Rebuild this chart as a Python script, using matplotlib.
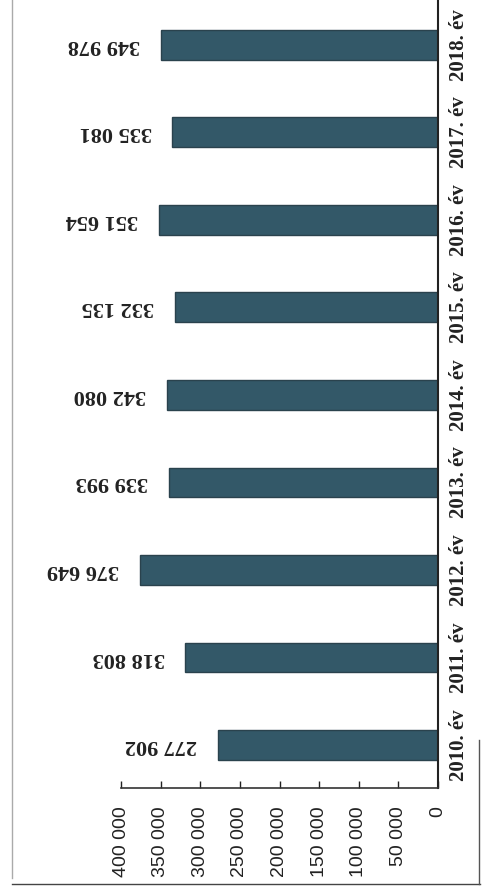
import matplotlib
matplotlib.use("Agg")
import matplotlib.pyplot as plt
from matplotlib.lines import Line2D
from matplotlib.ticker import FuncFormatter

categories = ["2010. év", "2011. év", "2012. év", "2013. év", "2014. év",
              "2015. év", "2016. év", "2017. év", "2018. év"]
values = [277902, 318803, 376649, 339993, 342080, 332135, 351654, 335081, 349978]
value_ticks = [0, 50000, 100000, 150000, 200000, 250000, 300000, 350000, 400000]

def fmt(v):
    return f"{int(v):,}".replace(",", " ")

fig = plt.figure(figsize=(4.82, 8.93), dpi=100)
ax = fig.add_axes([121/482, 1 - 788/893, (438-121)/482, 788/893])

pos = list(range(len(categories)))
ax.barh(pos, values, height=0.34, color="#335868", edgecolor="#2a424d", linewidth=1.0)
ax.set_xlim(400000, 0)
ax.set_ylim(-0.49, 8.51)

for p, v in zip(pos, values):
    ax.annotate(fmt(v), xy=(v, p), xytext=(-15, 0), textcoords="offset points",
                ha="right", va="center", rotation=180,
                fontsize=16, fontweight="bold", family="Liberation Serif", color="#222222")

ax.set_xticks(value_ticks)
ax.xaxis.set_major_formatter(FuncFormatter(lambda v, _: fmt(v)))
ax.tick_params(axis="x", direction="in", length=5, width=1, pad=13, labelsize=14,
               labelrotation=90, colors="#222222")
for lab in ax.get_xticklabels():
    lab.set_family("Liberation Sans")
    lab.set_va("top")

ax.yaxis.tick_right()
ax.set_yticks(pos)
ax.set_yticklabels(categories)
ax.tick_params(axis="y", length=0, pad=8, labelsize=15, labelrotation=90)
for lab in ax.get_yticklabels():
    lab.set_family("Liberation Serif")
    lab.set_fontweight("bold")
    lab.set_va("center")
    lab.set_color("#222222")

for s in ["top", "left"]:
    ax.spines[s].set_visible(False)
ax.spines["right"].set_linewidth(1.5)
ax.spines["bottom"].set_linewidth(1.2)
ax.spines["right"].set_color("#222222")
ax.spines["bottom"].set_color("#333333")

# scan frame lines
fig.add_artist(Line2D([12/482, 12/482], [1 - 878/893, 1.0], transform=fig.transFigure,
                      color="#aaaaaa", linewidth=1.0))
fig.add_artist(Line2D([12/482, 480/482], [1 - 884/893, 1 - 884/893], transform=fig.transFigure,
                      color="#444444", linewidth=1.0))
fig.add_artist(Line2D([479/482, 479/482], [1 - 884/893, 1 - 740/893], transform=fig.transFigure,
                      color="#555555", linewidth=1.0))

fig.savefig("out.png", dpi=100)
